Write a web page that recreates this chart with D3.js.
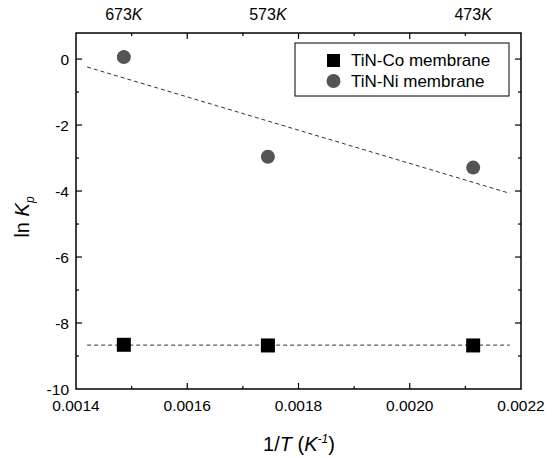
<!DOCTYPE html>
<html>
<head>
<meta charset="utf-8">
<script src="https://cdn.jsdelivr.net/npm/d3@7"></script>
<style>
  body { margin: 0; background: #fff; }
  svg text { font-family: "Liberation Sans", Arial, sans-serif; fill: #000; }
</style>
</head>
<body>
<div id="chart"></div>
<script>
// data
var invT = [0.001486, 0.001745, 0.002114];
var tempLabels = ["673", "573", "473"];
var coValues = [-8.66, -8.68, -8.68];
var niValues = [0.06, -2.96, -3.29];
var fitX = [0.00142, 0.00218];
var coFit = [-8.67, -8.67];
var niFit = [-0.24, -4.07];
var xTicks = [0.0014, 0.0016, 0.0018, 0.0020, 0.0022];
var yTicks = [0, -2, -4, -6, -8, -10];

var width = 557, height = 458;
var margin = { top: 33, right: 36, bottom: 69, left: 76 };

var svg = d3.select("#chart")
    .append("svg")
    .attr("width", width)
    .attr("height", height);

var x = d3.scaleLinear().domain([0.0014, 0.0022]).range([margin.left, 521]);
var y = d3.scaleLinear().domain([-10, 0.79]).range([389, margin.top]);

var g = svg.append("g");

// frame
g.append("rect")
    .attr("x", x.range()[0])
    .attr("y", y.range()[1])
    .attr("width", x.range()[1] - x.range()[0])
    .attr("height", y.range()[0] - y.range()[1])
    .attr("fill", "none")
    .attr("stroke", "#000")
    .attr("stroke-width", 1.5);

// ticks, all pointing inward
var xMinor = d3.range(15, 23).map(function (v) { return v / 10000; });
var yMinor = d3.range(-10, 1).map(function (v) { return v; });

xMinor.forEach(function (v, i) {
    var len = (i % 2 === 1) ? 6 : 3;
    if (i === 7) return;
    [y.range()[0], y.range()[1]].forEach(function (yy, k) {
        g.append("line")
            .attr("x1", x(v)).attr("x2", x(v))
            .attr("y1", yy).attr("y2", k === 0 ? yy - len : yy + len)
            .attr("stroke", "#000").attr("stroke-width", 1.2);
    });
});

yMinor.forEach(function (v) {
    if (v === -10) return;
    var len = (v % 2 === 0) ? 6 : 3;
    [x.range()[0], x.range()[1]].forEach(function (xx, k) {
        g.append("line")
            .attr("x1", xx).attr("x2", k === 0 ? xx + len : xx - len)
            .attr("y1", y(v)).attr("y2", y(v))
            .attr("stroke", "#000").attr("stroke-width", 1.2);
    });
});

// tick labels
g.selectAll(".xlab")
    .data(xTicks)
    .join("text")
    .attr("x", function (d) { return x(d); })
    .attr("y", 411)
    .attr("text-anchor", "middle")
    .style("font-size", "15.5px")
    .text(function (d) { return d3.format(".4f")(d); });

g.selectAll(".ylab")
    .data(yTicks)
    .join("text")
    .attr("x", 69)
    .attr("y", function (d) { return y(d) + 5.5; })
    .attr("text-anchor", "end")
    .style("font-size", "15.5px")
    .text(function (d) { return d === 0 ? "0" : "-" + Math.abs(d); });

// top temperature labels
var topLab = g.selectAll(".tlab")
    .data(tempLabels)
    .join("text")
    .attr("x", function (d, i) { return x(invT[i]); })
    .attr("y", 20)
    .attr("text-anchor", "middle")
    .style("font-size", "16px");
topLab.append("tspan").text(function (d) { return d; });
topLab.append("tspan").style("font-style", "italic").text("K");

// axis titles
var xt = g.append("text")
    .attr("x", 299)
    .attr("y", 451)
    .attr("text-anchor", "middle")
    .style("font-size", "20px");
xt.append("tspan").text("1/");
xt.append("tspan").style("font-style", "italic").text("T");
xt.append("tspan").text(" (");
xt.append("tspan").style("font-style", "italic").text("K");
xt.append("tspan").attr("dy", -8).style("font-size", "12px").style("font-style", "italic").text("-1");
xt.append("tspan").attr("dy", 8).text(")");

var yt = g.append("text")
    .attr("transform", "translate(29,217) rotate(-90)")
    .attr("text-anchor", "middle")
    .style("font-size", "20px");
yt.append("tspan").text("ln ");
yt.append("tspan").style("font-style", "italic").text("K");
yt.append("tspan").attr("dy", 5).style("font-size", "12px").style("font-style", "italic").text("p");

// fit lines
var line = d3.line()
    .x(function (d) { return x(d[0]); })
    .y(function (d) { return y(d[1]); });

[coFit, niFit].forEach(function (fit) {
    g.append("path")
        .attr("d", line(fitX.map(function (v, i) { return [v, fit[i]]; })))
        .attr("fill", "none")
        .attr("stroke", "#333")
        .attr("stroke-width", 1)
        .attr("stroke-dasharray", "4,3");
});

// markers
g.selectAll(".co")
    .data(coValues)
    .join("rect")
    .attr("x", function (d, i) { return x(invT[i]) - 7; })
    .attr("y", function (d) { return y(d) - 7; })
    .attr("width", 14)
    .attr("height", 14)
    .attr("fill", "#000");

g.selectAll(".ni")
    .data(niValues)
    .join("circle")
    .attr("cx", function (d, i) { return x(invT[i]); })
    .attr("cy", function (d) { return y(d); })
    .attr("r", 7)
    .attr("fill", "#555");

// legend
var lg = g.append("g").attr("transform", "translate(295,43)");
lg.append("rect")
    .attr("width", 214)
    .attr("height", 53)
    .attr("fill", "#fff")
    .attr("stroke", "#000")
    .attr("stroke-width", 1);
lg.append("rect")
    .attr("x", 32).attr("y", 11)
    .attr("width", 13).attr("height", 13)
    .attr("fill", "#000");
lg.append("circle")
    .attr("cx", 38.5).attr("cy", 38)
    .attr("r", 7)
    .attr("fill", "#555");
lg.append("text").attr("x", 56).attr("y", 23).style("font-size", "17px").text("TiN-Co membrane");
lg.append("text").attr("x", 56).attr("y", 43.5).style("font-size", "17px").text("TiN-Ni membrane");
</script>
</body>
</html>
